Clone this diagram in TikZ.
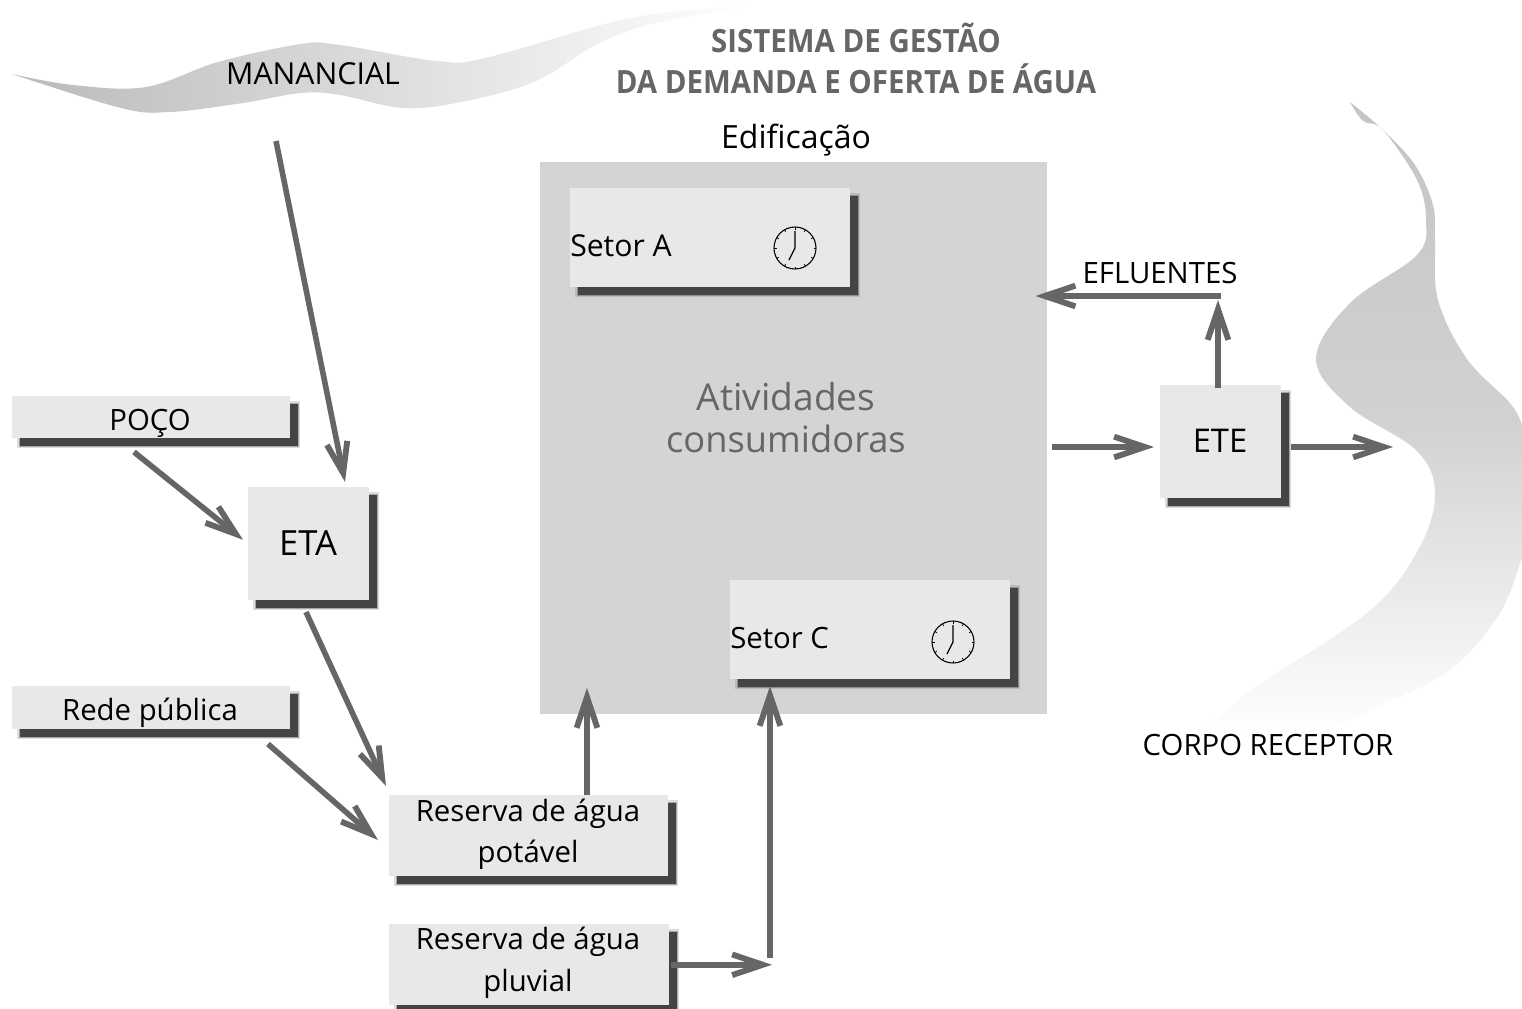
\documentclass[tikz,border=0pt]{standalone}
\usepackage{fontspec}
\setmainfont{Open Sans}
\newfontfamily\titlefont[FakeStretch=0.92]{Open Sans}
\usetikzlibrary{arrows.meta,calc}
\definecolor{flowgray}{HTML}{666666}
\definecolor{boxgray}{HTML}{E8E8E8}
\definecolor{bldgray}{HTML}{D4D4D4}
\definecolor{shadowgray}{HTML}{444444}
\tikzset{
  x=0.75pt,y=-0.75pt,
  flow/.style={draw=flowgray,line width=4.2pt,-{Straight Barb[length=23pt,width=15.5pt,line width=4.4pt]}},
  txt/.style={inner sep=0pt,anchor=base,text=black,font=\fontsize{#1}{30.75}\selectfont},
  txt/.default=22,
  ttl/.style={inner sep=0pt,anchor=base,font=\titlefont\bfseries\fontsize{24}{31.5}\selectfont,text=flowgray},
  box/.style={fill=boxgray,inner sep=0pt,anchor=north west,
    preaction={draw=shadowgray,draw opacity=.18,line width=3.2pt,fill=shadowgray,transform canvas={xshift=5.5pt,yshift=-5.5pt}},
    preaction={draw=shadowgray,draw opacity=.35,line width=1.4pt,fill=shadowgray,transform canvas={xshift=5.5pt,yshift=-5.5pt}}},
  sized/.style n args={2}{minimum width=#1*0.75pt,minimum height=#2*0.75pt},
  clockpic/.pic={
    \draw[line width=.8pt] (0,0) circle (21);
    \foreach \a in {0,30,...,330}{\draw[line width=.5pt] (\a:18.5) -- (\a:21);}
    \draw[line width=.9pt] (0,-17) -- (0,0) -- (-6,12);
  }
}
\begin{document}
\begin{tikzpicture}
\useasboundingbox (0,0) rectangle (1522,1008);
% manancial
\shade[left color=black!27,right color=white]
  plot[smooth,tension=.6] coordinates {(12,74) (73,85) (146,87) (218,62) (301,44) (340,45) (437,61) (485,58) (621,20) (704,9) (755,6)}
  -- plot[smooth,tension=.6] coordinates {(755,6) (680,18) (631,30) (592,47) (534,82) (461,102) (403,108) (340,95) (301,93) (243,103) (170,112) (121,108) (12,74)} -- cycle;
% corpo receptor
\shade[top color=black!23,bottom color=white,middle color=black!18]
  plot[smooth,tension=.6] coordinates {(1350,102) (1363,121) (1383,130) (1417,180) (1426,220) (1417,255) (1350,303) (1316,359) (1350,407) (1417,451) (1435,495) (1417,552) (1367,613) (1250,691) (1203,732)}
  -- plot[smooth,tension=.6] coordinates {(1203,732) (1317,731) (1383,704) (1450,670) (1500,613) (1522,556)}
  -- (1522,425)
  -- plot[smooth,tension=.6] coordinates {(1522,425) (1510,403) (1467,359) (1438,300) (1435,240) (1433,205) (1415,165) (1383,130) (1350,102)} -- cycle;

% titles
\node[ttl] (titulo) at (856,52) {SISTEMA DE GESTÃO};
\node[ttl] (titulob) at (856,93) {DA DEMANDA E OFERTA DE ÁGUA};
\node[txt=22.7] (manancial) at (313,84) {MANANCIAL};
\node[txt=24] (edificacao) at (796,148) {Edificação};

% building
\node[fill=bldgray,inner sep=0pt,anchor=north west,sized={507}{552}] (edif) at (540,162) {};
\node[box,sized={280}{99}] (setorA) at (570,188) {};
\node[box,sized={280}{99}] (setorC) at (730,580) {};
\node[txt=22.6,anchor=base west] (setorAt) at (570,256) {Setor A};
\node[txt=22,anchor=base west] (setorCt) at (730,648) {Setor C};
\pic at (795,248) {clockpic};
\pic at (953,642) {clockpic};
\node[txt=27.8,text=flowgray] (ativ) at (786,410) {Atividades};
\node[txt=27.2,text=flowgray] (ativb) at (786,452) {consumidoras};

% boxes
\node[box,sized={278}{42}] (poco) at (12,396) {};
\node[txt] (pocot) at (150,430) {POÇO};
\node[box,sized={121}{113}] (eta) at (248,487) {};
\node[txt=26] (etat) at (308,555) {ETA};
\node[box,sized={278}{43}] (rede) at (12,686) {};
\node[txt] (redet) at (150,720) {Rede pública};
\node[box,sized={279}{81}] (potavel) at (389,795) {};
\node[txt] (potavelt) at (528,821) {Reserva de água};
\node[txt] (potavelb) at (528,862) {potável};
\node[box,sized={280}{81}] (pluvial) at (389,924) {};
\node[txt] (pluvialt) at (528,949) {Reserva de água};
\node[txt] (pluvialb) at (528,991) {pluvial};
\node[box,sized={121}{113}] (ete) at (1160,385) {};
\node[txt=24.5] (etet) at (1220,452) {ETE};
\node[txt] (eflu) at (1160,283) {EFLUENTES};
\node[txt] (corpo) at (1268,755) {CORPO RECEPTOR};

% free ends
\coordinate (manfrom) at (276,141);
\coordinate (pocofrom) at (134,452);
\coordinate (redefrom) at (268,744);
\coordinate (etafrom) at (306,612);
\coordinate (junction) at (772,964);
\coordinate (riseStart) at (770,958);
\coordinate (riverin) at (1393,447);
\coordinate (corner) at (1218,300);
\coordinate (cornerb) at (1221,296);

% connectors
\draw[flow] (manfrom) -- ([shift={(97,-5)}]eta.north west);
\draw[flow] (pocofrom) -- ([xshift=-3.75pt,yshift=3pt]eta.west);
\draw[flow] (etafrom) -- ([shift={(-3,-9)}]potavel.north west);
\draw[flow] (redefrom) -- ([shift={(-11,45)}]potavel.north west);
\draw[flow] ([shift={(198,0)}]potavel.north west) -- (587,688);
\draw[flow] ([shift={(1,0)}]pluvial.east) -- (junction |- pluvial.east);
\draw[flow] (riseStart) -- ([shift={(40,106)}]setorC.north west);
\draw[flow] ([shift={(4,285)}]edif.north east) -- ([shift={(-6,62)}]ete.north west);
\draw[flow] ([shift={(9,62)}]ete.north east) -- (riverin);
\draw[flow] ([shift={(58,3)}]ete.north west) -- (corner);
\draw[flow] (cornerb) -- ([shift={(-12,134)}]edif.north east);
\end{tikzpicture}
\end{document}
